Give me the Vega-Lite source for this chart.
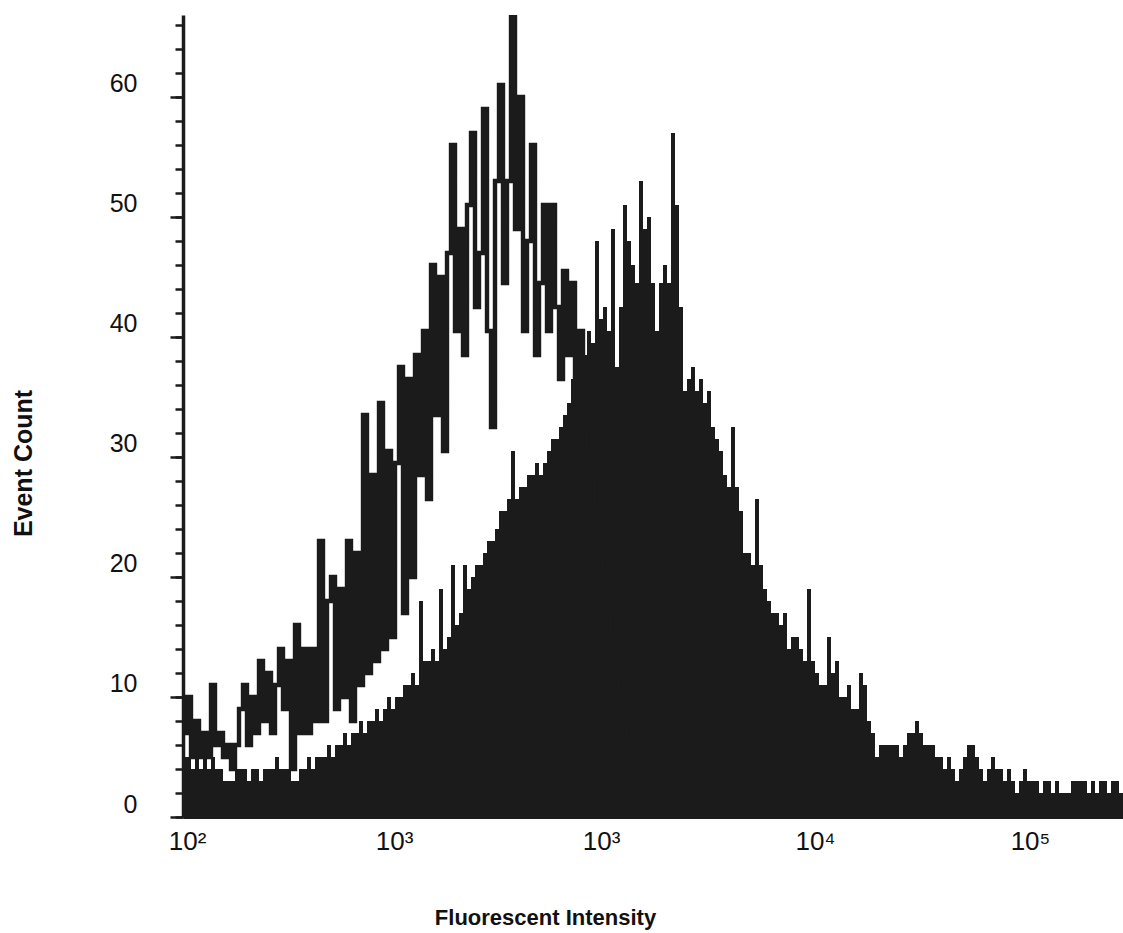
{
  "$schema": "https://vega.github.io/schema/vega-lite/v6.json",
  "width": 940,
  "height": 802,
  "autosize": {"type": "none"},
  "padding": {"left": 183, "top": 15, "right": 0, "bottom": 116},
  "background": "white",
  "config": {"view": {"stroke": null}, "font": "Liberation Sans"},
  "datasets": {
    "fill": [
      {"ch":0,"count":5},{"ch":1,"count":5},{"ch":2,"count":4},{"ch":3,"count":5},{"ch":4,"count":4},{"ch":5,"count":5},{"ch":6,"count":4},{"ch":7,"count":5},{"ch":8,"count":4},{"ch":9,"count":4},
      {"ch":10,"count":3},{"ch":11,"count":3},{"ch":12,"count":3},{"ch":13,"count":4},{"ch":14,"count":4},{"ch":15,"count":4},{"ch":16,"count":3},{"ch":17,"count":4},{"ch":18,"count":4},{"ch":19,"count":3},
      {"ch":20,"count":4},{"ch":21,"count":4},{"ch":22,"count":4},{"ch":23,"count":5},{"ch":24,"count":4},{"ch":25,"count":4},{"ch":26,"count":4},{"ch":27,"count":3},{"ch":28,"count":3},{"ch":29,"count":4},
      {"ch":30,"count":4},{"ch":31,"count":5},{"ch":32,"count":4},{"ch":33,"count":5},{"ch":34,"count":5},{"ch":35,"count":5},{"ch":36,"count":6},{"ch":37,"count":5},{"ch":38,"count":6},{"ch":39,"count":6},
      {"ch":40,"count":7},{"ch":41,"count":6},{"ch":42,"count":7},{"ch":43,"count":7},{"ch":44,"count":8},{"ch":45,"count":7},{"ch":46,"count":8},{"ch":47,"count":8},{"ch":48,"count":9},{"ch":49,"count":8},
      {"ch":50,"count":9},{"ch":51,"count":10},{"ch":52,"count":9},{"ch":53,"count":10},{"ch":54,"count":10},{"ch":55,"count":11},{"ch":56,"count":11},{"ch":57,"count":12},{"ch":58,"count":11},{"ch":59,"count":18},
      {"ch":60,"count":13},{"ch":61,"count":13},{"ch":62,"count":14},{"ch":63,"count":13},{"ch":64,"count":19},{"ch":65,"count":14},{"ch":66,"count":15},{"ch":67,"count":21},{"ch":68,"count":16},{"ch":69,"count":17},
      {"ch":70,"count":21},{"ch":71,"count":19},{"ch":72,"count":20},{"ch":73,"count":21},{"ch":74,"count":21},{"ch":75,"count":22},{"ch":76,"count":23},{"ch":77,"count":23},{"ch":78,"count":24},{"ch":79,"count":25.5},
      {"ch":80,"count":25.5},{"ch":81,"count":26.5},{"ch":82,"count":30.5},{"ch":83,"count":26.5},{"ch":84,"count":27.5},{"ch":85,"count":27.5},{"ch":86,"count":28.5},{"ch":87,"count":28.5},{"ch":88,"count":29.5},{"ch":89,"count":28.5},
      {"ch":90,"count":29.5},{"ch":91,"count":30.5},{"ch":92,"count":31.5},{"ch":93,"count":31.5},{"ch":94,"count":32.5},{"ch":95,"count":33.5},{"ch":96,"count":34.5},{"ch":97,"count":36.5},{"ch":98,"count":37.5},{"ch":99,"count":38.5},
      {"ch":100,"count":38.5},{"ch":101,"count":40.5},{"ch":102,"count":39.5},{"ch":103,"count":48},{"ch":104,"count":41.5},{"ch":105,"count":42.5},{"ch":106,"count":40.5},{"ch":107,"count":49},{"ch":108,"count":37.5},{"ch":109,"count":42.5},
      {"ch":110,"count":51},{"ch":111,"count":48},{"ch":112,"count":46},{"ch":113,"count":44.5},{"ch":114,"count":53},{"ch":115,"count":49},{"ch":116,"count":50},{"ch":117,"count":44.5},{"ch":118,"count":40.5},{"ch":119,"count":44.5},
      {"ch":120,"count":46},{"ch":121,"count":44.5},{"ch":122,"count":57},{"ch":123,"count":51},{"ch":124,"count":42.5},{"ch":125,"count":35.5},{"ch":126,"count":36.5},{"ch":127,"count":37.5},{"ch":128,"count":35.5},{"ch":129,"count":36.5},
      {"ch":130,"count":34.5},{"ch":131,"count":35.5},{"ch":132,"count":32.5},{"ch":133,"count":31.5},{"ch":134,"count":30.5},{"ch":135,"count":28.5},{"ch":136,"count":27.5},{"ch":137,"count":32.5},{"ch":138,"count":27.5},{"ch":139,"count":25.5},
      {"ch":140,"count":22},{"ch":141,"count":22},{"ch":142,"count":21},{"ch":143,"count":26.5},{"ch":144,"count":21},{"ch":145,"count":19},{"ch":146,"count":18},{"ch":147,"count":17},{"ch":148,"count":17},{"ch":149,"count":16},
      {"ch":150,"count":17},{"ch":151,"count":14},{"ch":152,"count":15},{"ch":153,"count":15},{"ch":154,"count":14},{"ch":155,"count":13},{"ch":156,"count":19},{"ch":157,"count":13},{"ch":158,"count":12},{"ch":159,"count":11},
      {"ch":160,"count":11},{"ch":161,"count":15},{"ch":162,"count":12},{"ch":163,"count":13},{"ch":164,"count":10},{"ch":165,"count":10},{"ch":166,"count":11},{"ch":167,"count":9},{"ch":168,"count":9},{"ch":169,"count":12},
      {"ch":170,"count":11},{"ch":171,"count":8},{"ch":172,"count":7},{"ch":173,"count":5},{"ch":174,"count":6},{"ch":175,"count":6},{"ch":176,"count":6},{"ch":177,"count":6},{"ch":178,"count":6},{"ch":179,"count":5},
      {"ch":180,"count":6},{"ch":181,"count":7},{"ch":182,"count":7},{"ch":183,"count":8},{"ch":184,"count":7},{"ch":185,"count":6},{"ch":186,"count":6},{"ch":187,"count":6},{"ch":188,"count":5},{"ch":189,"count":5},
      {"ch":190,"count":4},{"ch":191,"count":5},{"ch":192,"count":4},{"ch":193,"count":3},{"ch":194,"count":4},{"ch":195,"count":5},{"ch":196,"count":6},{"ch":197,"count":6},{"ch":198,"count":5},{"ch":199,"count":4},
      {"ch":200,"count":3},{"ch":201,"count":4},{"ch":202,"count":5},{"ch":203,"count":4},{"ch":204,"count":4},{"ch":205,"count":3},{"ch":206,"count":4},{"ch":207,"count":3},{"ch":208,"count":2},{"ch":209,"count":3},
      {"ch":210,"count":4},{"ch":211,"count":3},{"ch":212,"count":3},{"ch":213,"count":3},{"ch":214,"count":2},{"ch":215,"count":3},{"ch":216,"count":3},{"ch":217,"count":2},{"ch":218,"count":3},{"ch":219,"count":2},
      {"ch":220,"count":2},{"ch":221,"count":2},{"ch":222,"count":3},{"ch":223,"count":3},{"ch":224,"count":3},{"ch":225,"count":3},{"ch":226,"count":2},{"ch":227,"count":3},{"ch":228,"count":2},{"ch":229,"count":3},
      {"ch":230,"count":3},{"ch":231,"count":2},{"ch":232,"count":3},{"ch":233,"count":3},{"ch":234,"count":2},{"ch":235,"count":2}
    ],
    "outline": [
      {"ch":0,"count":7},{"ch":1,"count":10},{"ch":2,"count":5},{"ch":3,"count":8},{"ch":4,"count":5},{"ch":5,"count":7},{"ch":6,"count":5},{"ch":7,"count":11},{"ch":8,"count":6},{"ch":9,"count":7},
      {"ch":10,"count":5},{"ch":11,"count":6},{"ch":12,"count":4},{"ch":13,"count":6},{"ch":14,"count":9},{"ch":15,"count":11},{"ch":16,"count":6},{"ch":17,"count":10},{"ch":18,"count":7},{"ch":19,"count":13},
      {"ch":20,"count":8},{"ch":21,"count":12},{"ch":22,"count":7},{"ch":23,"count":11},{"ch":24,"count":14},{"ch":25,"count":9},{"ch":26,"count":13},{"ch":27,"count":4},{"ch":28,"count":16},{"ch":29,"count":7},
      {"ch":30,"count":14},{"ch":31,"count":7},{"ch":32,"count":14},{"ch":33,"count":8},{"ch":34,"count":23},{"ch":35,"count":8},{"ch":36,"count":18},{"ch":37,"count":20},{"ch":38,"count":9},{"ch":39,"count":19},
      {"ch":40,"count":10},{"ch":41,"count":23},{"ch":42,"count":8},{"ch":43,"count":22},{"ch":44,"count":11},{"ch":45,"count":33.5},{"ch":46,"count":12},{"ch":47,"count":28.5},{"ch":48,"count":13},{"ch":49,"count":34.5},
      {"ch":50,"count":14},{"ch":51,"count":30.5},{"ch":52,"count":15},{"ch":53,"count":29.5},{"ch":54,"count":37.5},{"ch":55,"count":17},{"ch":56,"count":36.5},{"ch":57,"count":20},{"ch":58,"count":38.5},{"ch":59,"count":28.5},
      {"ch":60,"count":40.5},{"ch":61,"count":26.5},{"ch":62,"count":46},{"ch":63,"count":33.5},{"ch":64,"count":45},{"ch":65,"count":30.5},{"ch":66,"count":47},{"ch":67,"count":56},{"ch":68,"count":40.5},{"ch":69,"count":49},
      {"ch":70,"count":38.5},{"ch":71,"count":51},{"ch":72,"count":57},{"ch":73,"count":42.5},{"ch":74,"count":47},{"ch":75,"count":59},{"ch":76,"count":40.5},{"ch":77,"count":32.5},{"ch":78,"count":53},{"ch":79,"count":61},
      {"ch":80,"count":44.5},{"ch":81,"count":53},{"ch":82,"count":67},{"ch":83,"count":49},{"ch":84,"count":60},{"ch":85,"count":40.5},{"ch":86,"count":48},{"ch":87,"count":56},{"ch":88,"count":38.5},{"ch":89,"count":44.5},
      {"ch":90,"count":51},{"ch":91,"count":40.5},{"ch":92,"count":51},{"ch":93,"count":42.5},{"ch":94,"count":36.5},{"ch":95,"count":45.5},{"ch":96,"count":38.5},{"ch":97,"count":44.5},{"ch":98,"count":34.5},{"ch":99,"count":40.5},
      {"ch":100,"count":32.5},{"ch":101,"count":30.5},{"ch":102,"count":28.5},{"ch":103,"count":25.5},{"ch":104,"count":22},{"ch":105,"count":20},{"ch":106,"count":17},{"ch":107,"count":15},{"ch":108,"count":12},{"ch":109,"count":10},
      {"ch":110,"count":8},{"ch":111,"count":6},{"ch":112,"count":4},{"ch":113,"count":3},{"ch":114,"count":2},{"ch":115,"count":1}
    ]
  },
  "layer": [
    {
      "data": {"name": "fill"},
      "mark": {"type": "area", "interpolate": "step-after", "color": "#1b1b1b", "clip": true},
      "encoding": {
        "x": {
          "field": "ch", "type": "quantitative",
          "scale": {"domain": [0, 235], "nice": false, "zero": false},
          "axis": {
            "orient": "bottom", "values": [1, 52.75, 104.5, 158, 211.75],
            "labelExpr": "datum.value < 10 ? '10²' : datum.value < 80 ? '10³' : datum.value < 130 ? '10³' : datum.value < 180 ? '10⁴' : '10⁵'",
            "ticks": false, "grid": false, "domain": true, "domainWidth": 3, "domainColor": "#1b1b1b",
            "labelFont": "Liberation Sans", "labelFontSize": 26, "labelColor": "#111111", "labelPadding": 11,
            "labelFlush": false, "labelOverlap": false, "labelBound": false,
            "title": "Fluorescent Intensity", "titleFont": "Liberation Sans", "titleFontSize": 22, "titleFontWeight": "bold", "titleColor": "#111111",
            "titleX": 362, "titleY": 107, "titleAlign": "center", "titleBaseline": "alphabetic"
          }
        },
        "y": {
          "field": "count", "type": "quantitative",
          "scale": {"domain": [0, 66.83], "nice": false},
          "axis": {
            "orient": "left", "values": [0, 10, 20, 30, 40, 50, 60],
            "tickSize": 13, "tickWidth": 2.5, "tickColor": "#1b1b1b",
            "domain": true, "domainWidth": 3.5, "domainColor": "#1b1b1b", "grid": false,
            "labelFont": "Liberation Sans", "labelFontSize": 25, "labelColor": "#111111", "labelPadding": 33, "labelOffset": -13,
            "title": "Event Count", "titleFont": "Liberation Sans", "titleFontSize": 25, "titleFontWeight": "bold", "titleColor": "#111111",
            "titleAngle": -90, "titleX": -152, "titleY": 448, "titleAlign": "center", "titleBaseline": "alphabetic"
          }
        }
      }
    },
    {
      "data": {"name": "outline"},
      "mark": {"type": "line", "interpolate": "step-after", "color": "#1b1b1b", "strokeWidth": 4.4, "clip": true},
      "encoding": {
        "x": {"field": "ch", "type": "quantitative", "title": "Fluorescent Intensity"},
        "y": {
          "field": "count", "type": "quantitative",
          "scale": {"domain": [0, 66.83], "nice": false},
          "axis": {
            "orient": "left", "values": [0, 2, 4, 6, 8, 10, 12, 14, 16, 18, 20, 22, 24, 26, 28, 30, 32, 34, 36, 38, 40, 42, 44, 46, 48, 50, 52, 54, 56, 58, 60, 62, 64, 66],
            "tickSize": 8, "tickWidth": 2.5, "tickColor": "#1b1b1b",
            "labels": false, "domain": false, "grid": false, "title": null
          }
        }
      }
    }
  ],
  "resolve": {"scale": {"y": "independent"}, "axis": {"y": "independent"}}
}
